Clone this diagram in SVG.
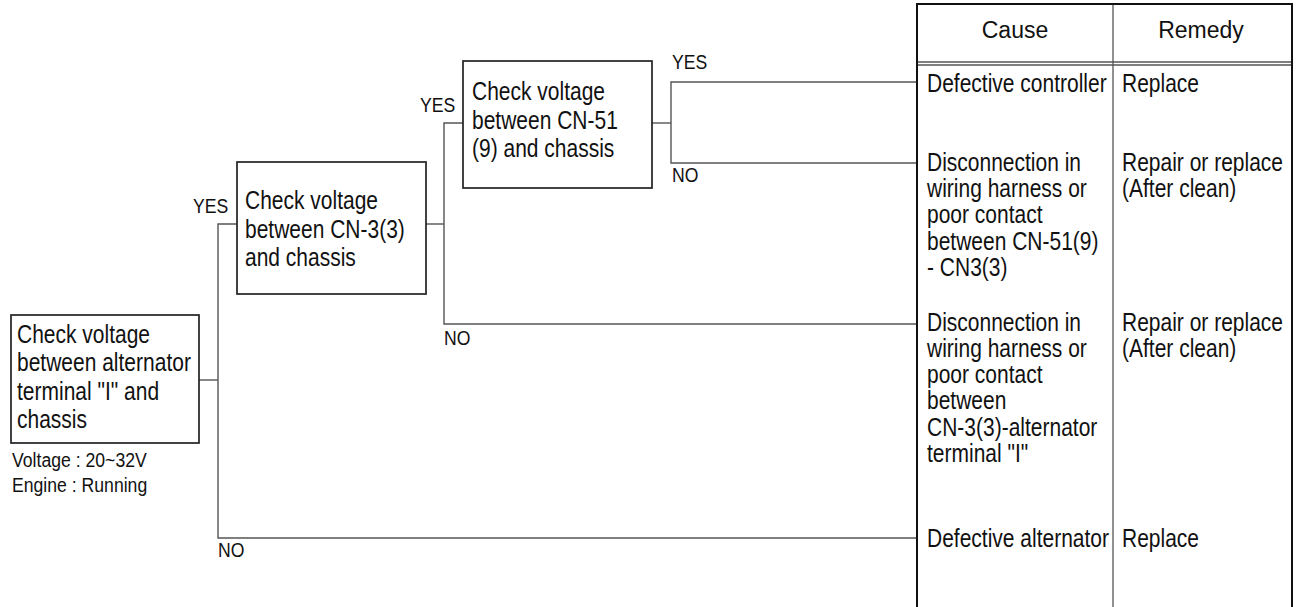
<svg xmlns="http://www.w3.org/2000/svg" width="1300" height="607" viewBox="0 0 1300 607">
<style>
text{font-family:"Liberation Sans",Arial,Helvetica,sans-serif;fill:#111}
.t{font-size:25px}
.h{font-size:23px}
.s{font-size:21px}
.l{font-size:21px}
.box{fill:#fff;stroke:#222;stroke-width:1.7}
.c{fill:none;stroke:#555;stroke-width:1.4}
.tb{fill:none;stroke:#111;stroke-width:2}
.tg{fill:none;stroke:#555;stroke-width:1.3}
</style>
<rect width="1300" height="607" fill="#fff"/>
<g id="connectors">
<polyline class="c" points="199,380 218,380"/>
<polyline class="c" points="237,224 218,224 218,538 917,538"/>
<polyline class="c" points="426,224 444,224"/>
<polyline class="c" points="463,123 444,123 444,324 917,324"/>
<polyline class="c" points="652,123 671,123"/>
<polyline class="c" points="917,82 671,82 671,163 917,163"/>
<g transform="translate(193 213) scale(0.84 1)"><text class="l">YES</text></g>
<g transform="translate(420 112) scale(0.84 1)"><text class="l">YES</text></g>
<g transform="translate(672 69) scale(0.84 1)"><text class="l">YES</text></g>
<g transform="translate(672 182) scale(0.84 1)"><text class="l">NO</text></g>
<g transform="translate(444 345) scale(0.84 1)"><text class="l">NO</text></g>
<g transform="translate(218 557) scale(0.84 1)"><text class="l">NO</text></g>
</g>
<g id="node-alternator">
<rect class="box" x="11" y="315" width="188" height="128"/>
<g transform="translate(17 0) scale(0.84 1)">
<text class="t" y="343">Check voltage</text>
<text class="t" y="371.5">between alternator</text>
<text class="t" y="400">terminal "I" and</text>
<text class="t" y="428.5">chassis</text>
</g>
<g transform="translate(12 0) scale(0.84 1)">
<text class="s" y="467">Voltage : 20~32V</text>
<text class="s" y="492">Engine : Running</text>
</g>
</g>
<g id="node-cn3">
<rect class="box" x="237" y="162" width="189" height="132"/>
<g transform="translate(245 0) scale(0.84 1)">
<text class="t" y="209.5">Check voltage</text>
<text class="t" y="238">between CN-3(3)</text>
<text class="t" y="266.5">and chassis</text>
</g>
</g>
<g id="node-cn51">
<rect class="box" x="463" y="61" width="189" height="127"/>
<g transform="translate(472 0) scale(0.84 1)">
<text class="t" y="100">Check voltage</text>
<text class="t" y="129">between CN-51</text>
<text class="t" y="157.5">(9) and chassis</text>
</g>
</g>
<g id="table">
<line class="tg" x1="1113" y1="4" x2="1113" y2="607"/>
<line class="tg" x1="917" y1="62" x2="1292" y2="62"/>
<line class="tg" x1="917" y1="65" x2="1292" y2="65"/>
<polyline class="tb" points="917,607 917,4 1292,4 1292,607"/>
<text class="h" x="1015" y="38" text-anchor="middle">Cause</text>
<text class="h" x="1201" y="38" text-anchor="middle">Remedy</text>
</g>
<g id="row-controller">
<g transform="translate(927 0) scale(0.84 1)"><text class="t" y="92.5">Defective controller</text></g>
<g transform="translate(1122 0) scale(0.84 1)"><text class="t" y="92.5">Replace</text></g>
</g>
<g id="row-harness-cn51">
<g transform="translate(927 0) scale(0.84 1)">
<text class="t" y="171">Disconnection in</text>
<text class="t" y="197">wiring harness or</text>
<text class="t" y="223.5">poor contact</text>
<text class="t" y="250">between CN-51(9)</text>
<text class="t" y="276">- CN3(3)</text>
</g>
<g transform="translate(1122 0) scale(0.84 1)">
<text class="t" y="171">Repair or replace</text>
<text class="t" y="197">(After clean)</text>
</g>
</g>
<g id="row-harness-cn3">
<g transform="translate(927 0) scale(0.84 1)">
<text class="t" y="331">Disconnection in</text>
<text class="t" y="357">wiring harness or</text>
<text class="t" y="383.5">poor contact</text>
<text class="t" y="409.5">between</text>
<text class="t" y="436">CN-3(3)-alternator</text>
<text class="t" y="462">terminal "I"</text>
</g>
<g transform="translate(1122 0) scale(0.84 1)">
<text class="t" y="331">Repair or replace</text>
<text class="t" y="357">(After clean)</text>
</g>
</g>
<g id="row-alternator">
<g transform="translate(927 0) scale(0.84 1)"><text class="t" y="547">Defective alternator</text></g>
<g transform="translate(1122 0) scale(0.84 1)"><text class="t" y="547">Replace</text></g>
</g>
</svg>
